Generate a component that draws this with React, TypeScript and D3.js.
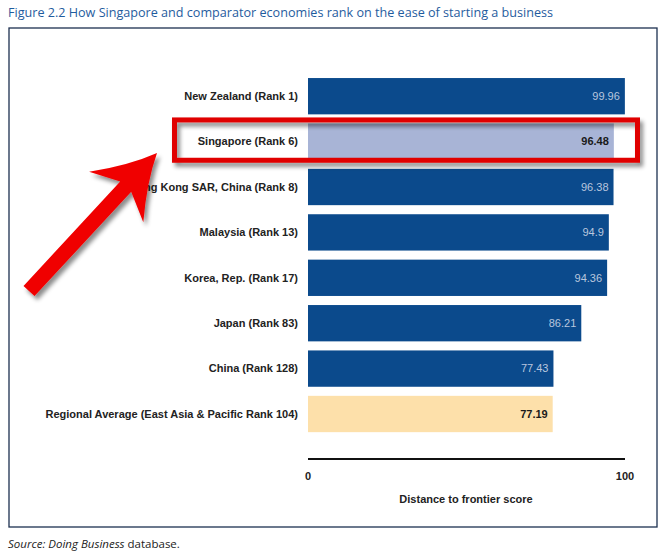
import React from "react";
import * as d3 from "d3";

const categories = [
  "New Zealand (Rank 1)",
  "Singapore (Rank 6)",
  "Hong Kong SAR, China (Rank 8)",
  "Malaysia (Rank 13)",
  "Korea, Rep. (Rank 17)",
  "Japan (Rank 83)",
  "China (Rank 128)",
  "Regional Average (East Asia & Pacific Rank 104)",
];
const values = [99.96, 96.48, 96.38, 94.9, 94.36, 86.21, 77.43, 77.19];
const valueLabels = ["99.96", "96.48", "96.38", "94.9", "94.36", "86.21", "77.43", "77.19"];
const barKinds = ["economy", "highlight", "economy", "economy", "economy", "economy", "economy", "regional"];
const xTicks = [0, 100];
const title = "Figure 2.2 How Singapore and comparator economies rank on the ease of starting a business";
const xTitle = "Distance to frontier score";

const W = 672;
const H = 556;

const fills: Record<string, string> = {
  economy: "#0b4a8c",
  highlight: "#a8b4d6",
  regional: "#fde0aa",
};
const labelFills: Record<string, string> = {
  economy: "#b9c6de",
  highlight: "#1a1a1a",
  regional: "#1a1a1a",
};

export default function App() {
  const x = d3.scaleLinear().domain([0, 100]).range([308, 625]);
  const y = d3
    .scaleBand<string>()
    .domain(categories)
    .range([73.5, 436.7])
    .paddingInner(0.2)
    .paddingOuter(0.1);

  const tail: [number, number] = [29, 291];
  const tip: [number, number] = [157, 153];
  const dx = tip[0] - tail[0];
  const dy = tip[1] - tail[1];
  const len = Math.hypot(dx, dy);
  const u = [dx / len, dy / len];
  const n = [-u[1], u[0]];
  const P = (a: number, p: number) =>
    `${(tail[0] + u[0] * a + n[0] * p).toFixed(1)},${(tail[1] + u[1] * a + n[1] * p).toFixed(1)}`;
  const hw = 7.5;
  const arrowPath =
    `M${P(0, -hw)} L${P(len - 46, -hw)} L${P(len - 60, -37)} ` +
    `Q${P(len - 28, -12)} ${P(len, 0)} ` +
    `Q${P(len - 28, 12)} ${P(len - 60, 37)} ` +
    `L${P(len - 46, hw)} L${P(0, hw)} Z`;

  const sgBand = y(categories[1])!;

  return (
    <svg
      width={W}
      height={H}
      style={{ position: "absolute", left: 0, top: 0, background: "#fff" }}
      fontFamily="'Liberation Sans', Arial, sans-serif"
    >
      <defs>
        <filter id="shadow" x="-20%" y="-20%" width="150%" height="150%">
          <feDropShadow dx="3" dy="4" stdDeviation="2.2" floodColor="#000" floodOpacity="0.45" />
        </filter>
      </defs>
      <rect width={W} height={H} fill="#fff" />
      <text
        x={8}
        y={17}
        fontSize={13.5}
        fill="#1f5c9e"
        fontFamily="'Open Sans', sans-serif"
        textLength={545}
        lengthAdjust="spacingAndGlyphs"
      >
        {title}
      </text>
      <rect x={9} y={28} width={648} height={499} fill="none" stroke="#1d3050" strokeWidth={1.3} />

      {categories.map((c, i) => {
        const by = y(c)!;
        const bh = y.bandwidth();
        const kind = barKinds[i];
        return (
          <g key={c}>
            <rect x={x(0)} y={by} width={x(values[i]) - x(0)} height={bh} fill={fills[kind]} />
            <text
              x={298}
              y={by + bh / 2}
              dy="0.35em"
              textAnchor="end"
              fontSize={11}
              fontWeight="bold"
              fill="#222"
            >
              {c}
            </text>
            <text
              x={x(values[i]) - 5}
              y={by + bh / 2}
              dy="0.35em"
              textAnchor="end"
              fontSize={11}
              fontWeight={kind === "economy" ? "normal" : "bold"}
              fill={labelFills[kind]}
            >
              {valueLabels[i]}
            </text>
          </g>
        );
      })}

      <line x1={x(0)} x2={x(100)} y1={459} y2={459} stroke="#111" strokeWidth={2} />
      {xTicks.map((t) => (
        <text key={t} x={x(t)} y={476} dy="0.35em" textAnchor="middle" fontSize={11} fontWeight="bold" fill="#222">
          {t}
        </text>
      ))}
      <text x={466} y={499} dy="0.35em" textAnchor="middle" fontSize={11} fontWeight="bold" fill="#222">
        {xTitle}
      </text>

      <text x={8} y={548} fontSize={11.5} fill="#222" fontFamily="'Open Sans', sans-serif">
        <tspan fontStyle="italic">Source: Doing Business</tspan>
        <tspan> database.</tspan>
      </text>

      <rect
        x={174.5}
        y={sgBand - 3.5}
        width={463}
        height={y.bandwidth() + 4}
        fill="none"
        stroke="#e00000"
        strokeWidth={5}
        filter="url(#shadow)"
      />
      <path d={arrowPath} fill="#f00000" filter="url(#shadow)" />
    </svg>
  );
}
